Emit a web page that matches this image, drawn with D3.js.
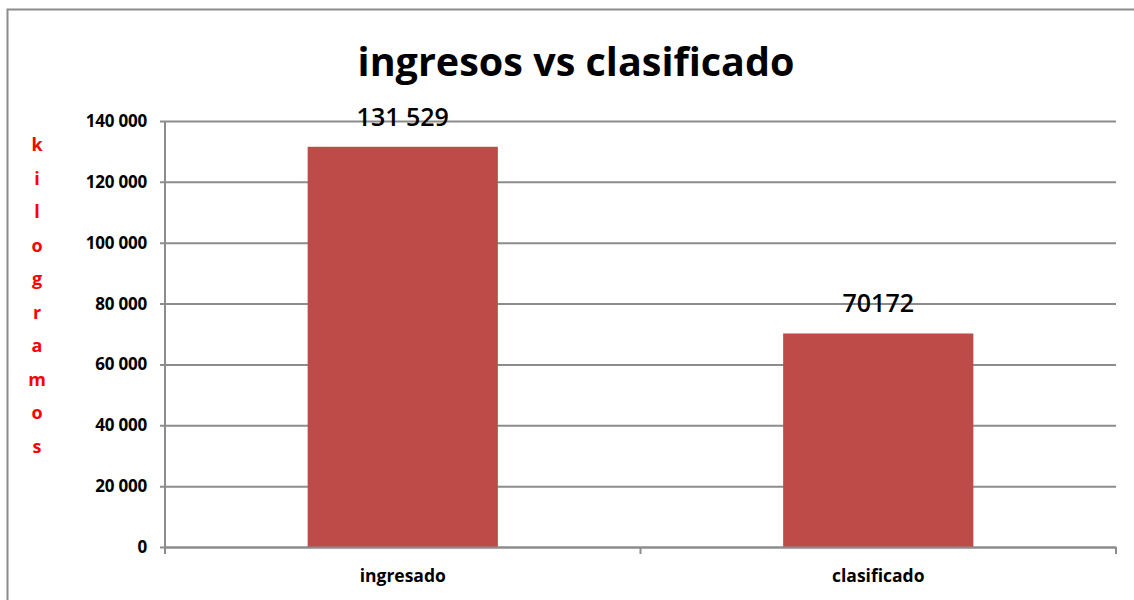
<!DOCTYPE html>
<html><head><meta charset="utf-8">
<script src="https://cdn.jsdelivr.net/npm/d3@7"></script>
<style>body{margin:0;background:#fff}svg{display:block}</style>
</head><body>
<script>
const categories = ["ingresado", "clasificado"];
const values = [131529, 70172];
const valueLabels = ["131 529", "70172"];
const yTicks = [0, 20000, 40000, 60000, 80000, 100000, 120000, 140000];
const yTickLabels = ["0", "20 000", "40 000", "60 000", "80 000", "100 000", "120 000", "140 000"];
const titleText = "ingresos vs clasificado";
const yTitle = "kilogramos";

const W = 1134, H = 600;
const m = {left: 165, right: 1116, top: 121, bottom: 547};
const svg = d3.select("body").append("svg").attr("width", W).attr("height", H);
const grey = "#8c8c8c";

// outer border
svg.append("path").attr("d", `M7.5,${H} V9.5 H${W}`).attr("fill", "none").attr("stroke", grey).attr("stroke-width", 2);

const x = d3.scaleBand().domain(categories).range([m.left, m.right]).paddingInner(0).paddingOuter(0);
const y = d3.scaleLinear().domain([0, 140000]).range([m.bottom, m.top]);

// gridlines + y axis ticks
const yAxis = d3.axisLeft(y).tickValues(yTicks).tickSize(-(m.right - m.left)).tickSizeOuter(0)
  .tickFormat((d, i) => yTickLabels[i]);
const gy = svg.append("g").attr("transform", `translate(${m.left},0)`).call(yAxis);
gy.select(".domain").remove();
gy.selectAll(".tick line").attr("stroke", grey).attr("stroke-width", 2).attr("x1", -5);
gy.selectAll(".tick text").attr("x", -18).attr("dy", "0.32em")
  .style("font-family", "'Open Sans', sans-serif").style("font-weight", "bold").style("font-size", "17px")
  .style("letter-spacing", "-0.2px").attr("fill", "#000");

// y axis line
svg.append("line").attr("x1", m.left).attr("x2", m.left).attr("y1", m.top).attr("y2", m.bottom + 6)
  .attr("stroke", grey).attr("stroke-width", 2);

// bars
const bw = x.bandwidth() * 0.4;
svg.selectAll("rect.bar").data(values).join("rect").attr("class", "bar")
  .attr("x", (d, i) => x(categories[i]) + (x.bandwidth() - bw) / 2)
  .attr("width", bw)
  .attr("y", d => y(d)).attr("height", d => y(0) - y(d))
  .attr("fill", "#be4b48");

// x axis
const xAxis = d3.axisBottom(x).tickSize(0).tickSizeOuter(0);
const gx = svg.append("g").attr("transform", `translate(0,${m.bottom})`).call(xAxis);
gx.select(".domain").attr("stroke", grey).attr("stroke-width", 2);
gx.selectAll(".tick text").attr("y", 29).attr("dy", "0.32em")
  .style("font-family", "'Open Sans', sans-serif").style("font-weight", "bold").style("font-size", "17.5px").attr("fill", "#000");
// category boundary ticks
const bounds = [m.left, ...categories.map(c => x(c) + x.bandwidth())];
svg.selectAll("line.xt").data(bounds).join("line").attr("class", "xt")
  .attr("x1", d => d).attr("x2", d => d).attr("y1", m.bottom).attr("y2", m.bottom + 7)
  .attr("stroke", grey).attr("stroke-width", 2);

// value labels
svg.selectAll("text.vl").data(values).join("text").attr("class", "vl")
  .attr("x", (d, i) => x(categories[i]) + x.bandwidth() / 2)
  .attr("y", d => y(d) - 30)
  .attr("text-anchor", "middle").attr("dy", "0.35em")
  .style("font-family", "'Open Sans', sans-serif").style("font-weight", "600").style("font-size", "25px").attr("fill", "#000")
  .text((d, i) => valueLabels[i]);

// title
svg.append("text").attr("x", 576).attr("y", 76).attr("text-anchor", "middle")
  .style("font-family", "'Open Sans', sans-serif").style("font-weight", "bold").style("font-size", "39.5px").attr("fill", "#000")
  .text(titleText);

// vertical stacked y title
svg.append("g").selectAll("text").data(yTitle.split("")).join("text")
  .attr("x", 37).attr("y", (d, i) => 145 + i * 33.5).attr("text-anchor", "middle").attr("dy", "0.35em")
  .style("font-family", "'Open Sans', sans-serif").style("font-weight", "bold").style("font-size", "18px").attr("fill", "#ff0000")
  .text(d => d);
</script>
</body></html>
